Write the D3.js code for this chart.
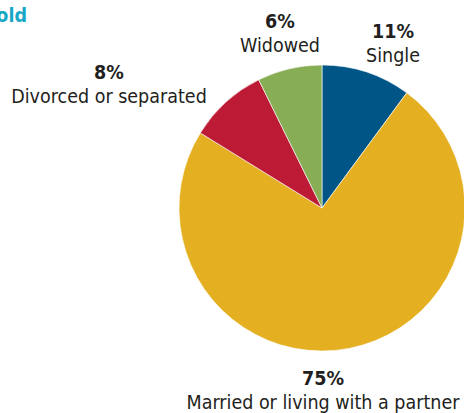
<!DOCTYPE html>
<html>
<head>
<meta charset="utf-8">
<script src="https://cdn.jsdelivr.net/npm/d3@7"></script>
<style>
  html, body { margin: 0; padding: 0; background: #fff; }
  svg { display: block; }
  text { font-family: "DejaVu Sans Condensed", "DejaVu Sans", sans-serif; font-stretch: condensed; fill: #231f20; }
</style>
</head>
<body>
<svg id="chart" width="464" height="413"></svg>
<script>
// slices, clockwise from 12 o'clock
const categories = ['Single', 'Married or living with a partner', 'Divorced or separated', 'Widowed']
const shares = [10.1, 73.7, 8.9, 7.3]
const pctLabels = ['11%', '75%', '8%', '6%']
const colors = ['#005587', '#e4b022', '#bd1a35', '#87ad55']

const width = 464, height = 413
const cx = 322, cy = 208, radius = 143
// where each label block sits, relative to the pie centre
const labelOffsets = [[71, -170], [1, 177], [-213, -129], [-42, -180]]
const lineGap = 23.5

const svg = d3.select('#chart')

// clipped title from the page layout
svg.append('text')
   .attr('x', 27).attr('y', 22)
   .attr('text-anchor', 'end')
   .style('font-family', '"DejaVu Sans Condensed", sans-serif')
   .style('font-weight', 'bold')
   .style('font-size', '19.5px')
   .style('fill', '#17a8c6')
   .text('Household')

const pie = d3.pie().sort(null).value(d => d.value)
const arc = d3.arc().innerRadius(0).outerRadius(radius)

const data = categories.map((c, i) => ({name: c, value: shares[i], pct: pctLabels[i], color: colors[i], off: labelOffsets[i]}))

const g = svg.append('g').attr('transform', `translate(${cx},${cy})`)

g.selectAll('path.slice')
 .data(pie(data))
 .join('path')
   .attr('class', 'slice')
   .attr('d', arc)
   .attr('fill', d => d.data.color)
   .attr('stroke', '#fff')
   .attr('stroke-width', 0.6)

const labels = g.selectAll('g.label')
  .data(data)
  .join('g')
    .attr('class', 'label')
    .attr('transform', d => `translate(${d.off[0]},${d.off[1]})`)

labels.append('text')
  .attr('text-anchor', 'middle')
  .style('font-weight', 'bold')
  .style('font-size', '19.5px')
  .text(d => d.pct)

labels.append('text')
  .attr('text-anchor', 'middle')
  .attr('y', lineGap)
  .style('font-size', '19.5px')
  .text(d => d.name)
</script>
</body>
</html>
